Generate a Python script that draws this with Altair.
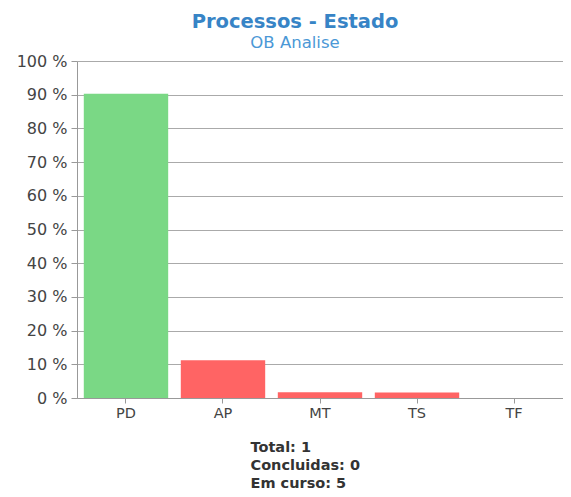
import altair as alt
import pandas as pd

categories = ["PD", "AP", "MT", "TS", "TF"]
values = [90.3, 11.2, 1.7, 1.6, 0.0]
colors = ["#7ad885", "#ff6464", "#ff6464", "#ff6464", "#ff6464"]
y_ticks = [0, 10, 20, 30, 40, 50, 60, 70, 80, 90, 100]
footer = ["Total: 1", "Concluidas: 0", "Em curso: 5"]

df = pd.DataFrame({"cat": categories, "val": values, "color": colors})

font = "DejaVu Sans"

chart = alt.Chart(df).mark_bar().encode(
    x=alt.X("cat:N", sort=categories,
            scale=alt.Scale(paddingInner=0.13, paddingOuter=0.07),
            axis=alt.Axis(title=footer, labelAngle=0, labelFont=font, labelFontSize=14.5,
                          labelColor="#444", tickColor="#999", domainColor="#999",
                          tickSize=5, labelPadding=3,
                          titleFont=font, titleFontSize=14.5, titleFontWeight="bold",
                          titleColor="#333", titleAlign="left", titleAnchor="start",
                          titleX=173, titleY=42, titleLineHeight=18, titleBaseline="top")),
    y=alt.Y("val:Q", scale=alt.Scale(domain=[0, 100], nice=False),
            axis=alt.Axis(title=None, values=y_ticks, labelExpr="datum.value + ' %'",
                          labelFont=font, labelFontSize=16, labelColor="#444",
                          tickColor="#999", domainColor="#999", tickSize=6,
                          gridColor="#aaa", labelPadding=4)),
    color=alt.Color("color:N", scale=None),
).properties(
    width=486,
    height=337,
    padding={"left": 69, "top": 53, "right": 0, "bottom": 91},
    autosize=alt.AutoSizeParams(type="none"),
    title=alt.TitleParams(
        text="Processos - Estado", subtitle="OB Analise",
        font=font, fontSize=19.5, fontWeight="bold", color="#3784c6",
        subtitleFont=font, subtitleFontSize=16.5, subtitleColor="#4b98d6",
        anchor="middle", dx=-25, offset=1, subtitlePadding=2,
    ),
).configure_view(stroke=None).configure_axisX(grid=False)

chart.save("out.html", embed_options={"renderer": "svg", "actions": False})
